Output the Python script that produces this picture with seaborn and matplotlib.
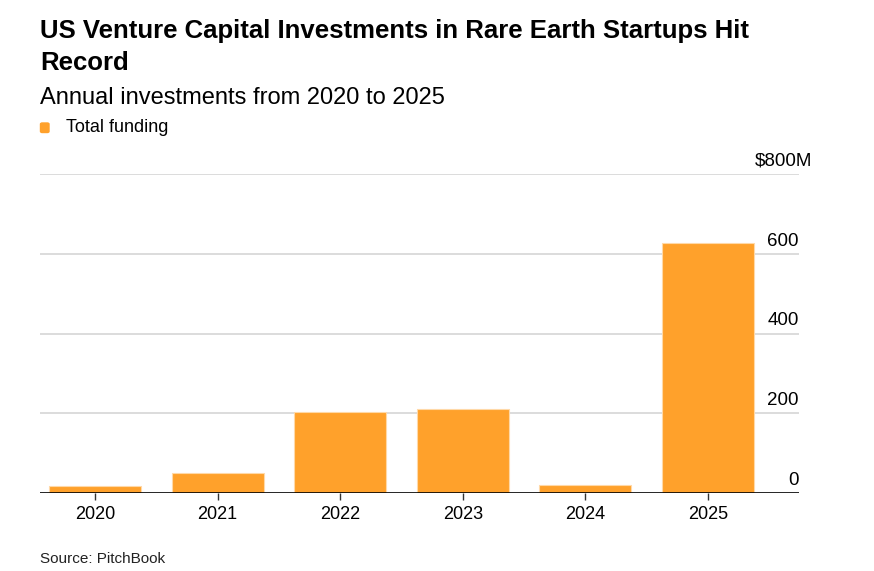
import numpy as np
import pandas as pd
import matplotlib
matplotlib.use('Agg')
import matplotlib.pyplot as plt
import matplotlib.transforms as mtransforms
from matplotlib.patches import FancyBboxPatch
import seaborn as sns

years = ['2020', '2021', '2022', '2023', '2024', '2025']
funding = [17.5, 51, 204, 210, 20, 628]
ytick_vals = [0, 200, 400, 600, 800]
ytick_labels = ['0', '200', '400', '600', '$800M']

title = 'US Venture Capital Investments in Rare Earth Startups Hit\nRecord'
subtitle = 'Annual investments from 2020 to 2025'
legend_label = 'Total funding'
source = 'Source: PitchBook'

bar_color = '#FFA12B'

sns.set_style('white')
plt.rcParams['font.family'] = ['Liberation Sans', 'DejaVu Sans']
plt.rcParams['text.color'] = 'black'

df = pd.DataFrame({'year': years, 'funding': funding})

fig = plt.figure(figsize=(8.74, 5.71), dpi=100)
ax = fig.add_axes([40 / 874, 77.7 / 571, (799 - 40) / 874, (493.3 - 173.9) / 571])

sns.barplot(data=df, x='year', y='funding', color=bar_color, saturation=1,
            width=0.75, edgecolor='#FFD9A8', linewidth=0.8, ax=ax, zorder=3)

ax.set_xlim(-0.449, 5.742)
ax.set_ylim(0, 800)
ax.set_xlabel('')
ax.set_ylabel('')

# grid lines
for v in ytick_vals[1:]:
    ax.axhline(v, color='#d6d6d6', lw=1.2, zorder=1)
ax.axhline(0, color='black', lw=1.2, zorder=4)

for s in ax.spines.values():
    s.set_visible(False)

ax.yaxis.tick_right()
ax.set_yticks(ytick_vals)
ax.set_yticklabels(ytick_labels)
ax.tick_params(axis='y', length=0, pad=0, labelsize=13.5, labelcolor='black')
for lab in ax.get_yticklabels():
    lab.set_horizontalalignment('right')
    lab.set_verticalalignment('bottom')
    lab.set_transform(lab.get_transform() + mtransforms.ScaledTranslation(0, 3 / 72, fig.dpi_scale_trans))
ax.get_yticklabels()[-1].set_transform(
    ax.get_yticklabels()[-1].get_transform() + mtransforms.ScaledTranslation(13 / 100, 0, fig.dpi_scale_trans))

ax.tick_params(axis='x', bottom=True, length=5, width=1, color='#333333', pad=4,
               labelsize=13, labelcolor='black')

fig.text(40 / 874, 1 - 19 / 571, title, fontsize=18.5, fontweight='bold', va='top', ha='left',
         linespacing=1.4, color='black')
fig.text(40 / 874, 1 - 87 / 571, subtitle, fontsize=17, va='top', ha='left', color='black')
fig.patches.append(FancyBboxPatch((40.5 / 874, 1 - 132.5 / 571), 8.5 / 874, 9.5 / 571,
                                  boxstyle='round,pad=0,rounding_size=0.002',
                                  transform=fig.transFigure, color=bar_color, figure=fig))
fig.text(66 / 874, 1 - 128 / 571, legend_label, fontsize=13, va='center', ha='left', color='black')
fig.text(40 / 874, 1 - 559 / 571, source, fontsize=11, va='center', ha='left', color='#222222')

fig.savefig('out.png', dpi=100)
